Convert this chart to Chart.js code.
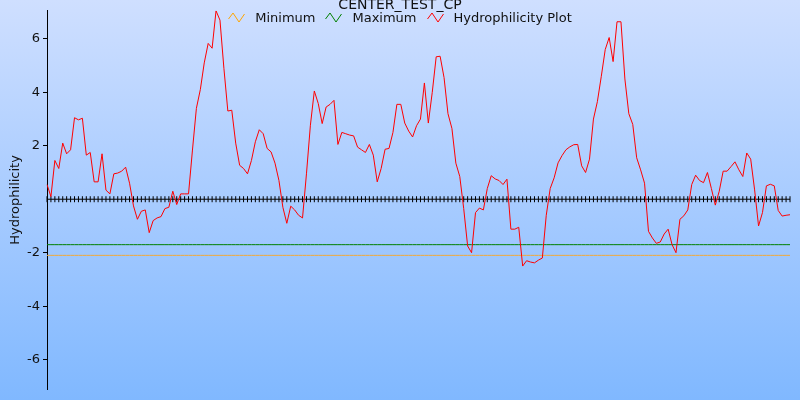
<!DOCTYPE html>
<html>
<head>
<meta charset="utf-8">
<script src="https://cdn.jsdelivr.net/npm/chart.js@4"></script>
<style>
  html, body { margin: 0; padding: 0; }
  #wrap {
    position: relative; width: 800px; height: 400px; overflow: hidden;
    background: linear-gradient(to bottom, rgb(207,223,255), rgb(128,184,255));
    font-family: "DejaVu Sans", Verdana, sans-serif; color: #111;
  }
  #c { position: absolute; left: 0; top: 0; }
  #title {
    position: absolute; left: 0; top: -4px; width: 800px; text-align: center;
    font-size: 14px; line-height: 16px; white-space: nowrap;
  }
  #legend {
    position: absolute; left: 0; top: 10px; width: 800px;
    display: flex; justify-content: center; font-size: 13px; line-height: 15px;
  }
  .item { display: flex; align-items: center; margin: 0 5px; white-space: nowrap; }
  .item svg { margin-right: 10px; }
</style>
</head>
<body>
<div id="wrap">
  <canvas id="c" width="800" height="400"></canvas>
  <div id="title">CENTER_TEST_CP</div>
  <div id="legend"></div>
</div>
<script>
// ---- data ----
const chartTitle = "CENTER_TEST_CP";
const yAxisTitle = "Hydrophilicity";
const yTickValues = [-6, -4, -2, 2, 4, 6];
const minimumValue = -2.1;
const maximumValue = -1.7;
const baselineValue = 0;
const hydrophilicity = [
  0.55, 0.1, 1.45, 1.15, 2.1, 1.7, 1.85, 3.05, 2.97, 3.03,
  1.65, 1.75, 0.65, 0.65, 1.7, 0.34, 0.2, 0.95, 0.98, 1.05,
  1.2, 0.6, -0.25, -0.75, -0.45, -0.4, -1.25, -0.8, -0.7, -0.65,
  -0.35, -0.3, 0.3, -0.2, 0.2, 0.2, 0.2, 1.84, 3.4, 4.1,
  5.1, 5.83, 5.65, 7.05, 6.7, 4.9, 3.3, 3.33, 2.1, 1.27,
  1.15, 0.95, 1.45, 2.15, 2.6, 2.45, 1.9, 1.77, 1.35, 0.7,
  -0.3, -0.9, -0.26, -0.4, -0.6, -0.7, 0.95, 2.77, 4.05, 3.58,
  2.83, 3.45, 3.55, 3.7, 2.05, 2.5, 2.45, 2.4, 2.37, 1.95,
  1.85, 1.75, 2.05, 1.65, 0.65, 1.15, 1.87, 1.9, 2.5, 3.55,
  3.55, 2.85, 2.55, 2.33, 2.75, 3.0, 4.35, 2.85, 4.0, 5.33,
  5.35, 4.55, 3.2, 2.65, 1.35, 0.85, -0.35, -1.75, -2.0, -0.5,
  -0.33, -0.4, 0.4, 0.88, 0.76, 0.7, 0.55, 0.75, -1.12, -1.12,
  -1.05, -2.5, -2.3, -2.35, -2.38, -2.28, -2.2, -0.6, 0.4, 0.8,
  1.36, 1.63, 1.85, 1.96, 2.04, 2.05, 1.25, 1.0, 1.5, 3.0,
  3.65, 4.6, 5.6, 6.05, 5.15, 6.64, 6.64, 4.5, 3.2, 2.8,
  1.55, 1.1, 0.6, -1.2, -1.45, -1.65, -1.6, -1.3, -1.12, -1.7,
  -2.0, -0.75, -0.62, -0.4, 0.55, 0.9, 0.7, 0.62, 1.0, 0.4,
  -0.22, 0.3, 1.05, 1.05, 1.22, 1.4, 1.1, 0.85, 1.73, 1.5,
  0.35, -1.0, -0.5, 0.5, 0.56, 0.5, -0.42, -0.63, -0.6, -0.58
];
const categories = hydrophilicity.map((_, i) => String(i + 1));

// ---- chart ----
const datasets = [
  { label: "Minimum", data: categories.map(() => minimumValue), borderColor: "rgb(240,170,60)",
    borderWidth: 1, pointRadius: 0, order: 3 },
  { label: "Maximum", data: categories.map(() => maximumValue), borderColor: "#008000",
    borderWidth: 1, pointRadius: 0, order: 2 },
  { label: "Hydrophilicity Plot", data: hydrophilicity, borderColor: "#ff0000",
    borderWidth: 1, pointRadius: 0, tension: 0, order: 0 },
  { label: "", data: categories.map(() => baselineValue), borderColor: "#000",
    borderWidth: 1, pointStyle: "line", rotation: 90, pointRadius: 3,
    pointBorderColor: "#000", pointBorderWidth: 1, order: 1, legendHidden: true }
];

const chart = new Chart(document.getElementById("c"), {
  type: "line",
  data: { labels: categories, datasets },
  options: {
    responsive: false, animation: false, devicePixelRatio: 1,
    layout: { padding: { top: 10, bottom: 11, right: 10, left: 0 } },
    plugins: { legend: { display: false }, title: { display: false }, tooltip: { enabled: false } },
    events: [],
    scales: {
      x: { type: "category", display: false, offset: false },
      y: {
        min: -7.1, max: 7.05,
        afterBuildTicks: s => { s.ticks = yTickValues.map(v => ({ value: v })); },
        afterFit: s => { s.width = 47; },
        ticks: { color: "#111", font: { family: "DejaVu Sans", size: 13 }, padding: 3 },
        grid: { drawOnChartArea: false, drawTicks: true, tickLength: 4, color: "#000" },
        border: { color: "#000", width: 1 },
        title: { display: true, text: yAxisTitle, color: "#111",
                 font: { family: "DejaVu Sans", size: 13 }, padding: { top: 8, bottom: 0 } }
      }
    }
  }
});

// ---- HTML legend from datasets ----
document.getElementById("title").textContent = chartTitle;
const legend = document.getElementById("legend");
chart.data.datasets.filter(d => !d.legendHidden).forEach(d => {
  const item = document.createElement("div");
  item.className = "item";
  const color = d.label === "Minimum" ? "#ffa500" : d.borderColor;
  item.innerHTML = '<svg width="17" height="11" viewBox="0 0 17 11"><polyline points="0.5,7 5,1 11,10 16.5,2" fill="none" stroke="' + color + '" stroke-width="1"/></svg>';
  const span = document.createElement("span");
  span.textContent = d.label;
  item.appendChild(span);
  legend.appendChild(item);
});
</script>
</body>
</html>
